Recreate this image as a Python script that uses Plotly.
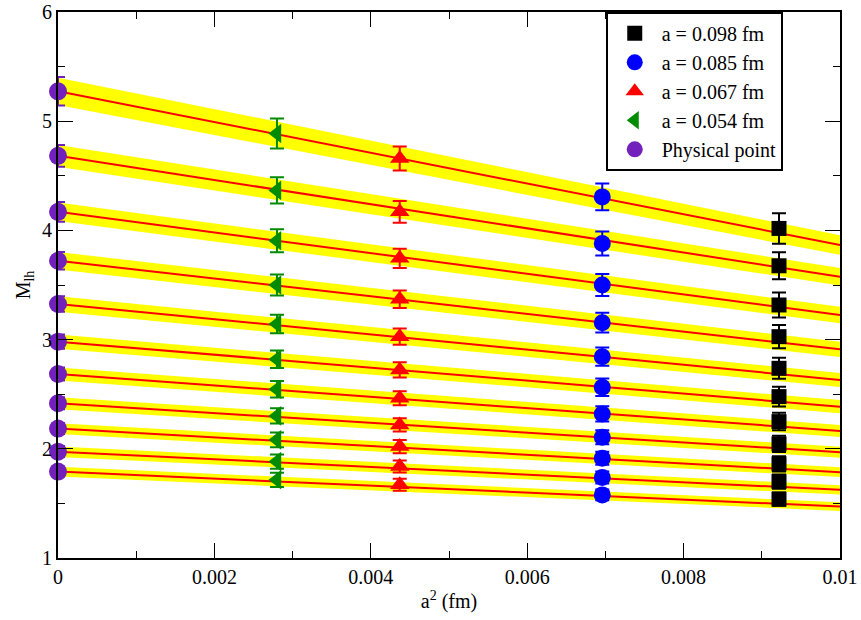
import plotly.graph_objects as go

# ---------------- data ----------------
x_phys = 0.0
x_054 = 0.0028
x_067 = 0.00437
x_085 = 0.00696
x_098 = 0.00922

phys_y = [5.274, 4.683, 4.170, 3.722, 3.326, 2.981, 2.685, 2.417, 2.185, 1.974, 1.791]
phys_err = [0.13, 0.10, 0.09, 0.08, 0.07, 0.065, 0.06, 0.055, 0.05, 0.05, 0.045]

a054_y = [4.887, 4.366, 3.905, 3.500, 3.143, 2.820, 2.545, 2.301, 2.082, 1.883, 1.716]
a054_err = [0.137, 0.12, 0.105, 0.096, 0.084, 0.08, 0.075, 0.07, 0.067, 0.065, 0.065]

a067_y = [4.659, 4.170, 3.744, 3.370, 3.027, 2.722, 2.463, 2.219, 2.020, 1.837, 1.670]
a067_err = [0.11, 0.10, 0.088, 0.08, 0.075, 0.07, 0.065, 0.06, 0.06, 0.055, 0.055]

a085_y = [4.307, 3.881, 3.500, 3.155, 2.844, 2.564, 2.319, 2.106, 1.914, 1.737, 1.578]
a085_err = [0.122, 0.11, 0.10, 0.09, 0.084, 0.08, 0.07, 0.065, 0.06, 0.055, 0.05]

a098_y = [4.018, 3.676, 3.317, 3.027, 2.737, 2.478, 2.249, 2.045, 1.862, 1.700, 1.539]
a098_err = [0.14, 0.123, 0.115, 0.107, 0.096, 0.09, 0.08, 0.075, 0.07, 0.065, 0.06]

# linear fits: value at a^2 = 0 and at a^2 = 0.01
fit_y0 = [5.274, 4.683, 4.170, 3.722, 3.326, 2.981, 2.685, 2.417, 2.185, 1.974, 1.791]
fit_y1 = [3.866, 3.576, 3.225, 2.911, 2.630, 2.386, 2.164, 1.969, 1.786, 1.624, 1.471]
band_hw0 = [0.125, 0.10, 0.085, 0.08, 0.07, 0.065, 0.06, 0.055, 0.05, 0.048, 0.045]
band_hw1 = [0.09, 0.08, 0.075, 0.07, 0.065, 0.06, 0.055, 0.05, 0.045, 0.043, 0.04]
fit_x = [0.0, 0.01]

x_tickvals = [0, 0.002, 0.004, 0.006, 0.008, 0.01]
x_ticktext = ["0", "0.002", "0.004", "0.006", "0.008", "0.01"]
y_tickvals = [1, 2, 3, 4, 5, 6]
y_ticktext = ["1", "2", "3", "4", "5", "6"]

FONT = "Liberation Serif"
fig = go.Figure()

# bands
for y0, y1, h0, h1 in zip(fit_y0, fit_y1, band_hw0, band_hw1):
    xs = fit_x + fit_x[::-1]
    ys = [y0 + h0, y1 + h1, y1 - h1, y0 - h0]
    fig.add_trace(go.Scatter(x=xs, y=ys, fill="toself", fillcolor="#ffff00",
                             line=dict(width=0), mode="lines", showlegend=False,
                             hoverinfo="skip"))
# fit lines
for y0, y1 in zip(fit_y0, fit_y1):
    fig.add_trace(go.Scatter(x=fit_x, y=[y0, y1], mode="lines",
                             line=dict(color="#ff0000", width=2), showlegend=False,
                             hoverinfo="skip"))

def pts(xv, ys, errs, name, color, symbol, size):
    fig.add_trace(go.Scatter(
        x=[xv] * len(ys), y=ys, mode="markers", name=name,
        marker=dict(color=color, symbol=symbol, size=size, line=dict(width=0)),
        error_y=dict(type="data", array=errs, color=color, thickness=2, width=7),
        cliponaxis=False))

pts(x_098, a098_y, a098_err, "a = 0.098 fm", "#000000", "square", 15)
pts(x_085, a085_y, a085_err, "a = 0.085 fm", "#0000ff", "circle", 17)
pts(x_067, a067_y, a067_err, "a = 0.067 fm", "#ff0000", "triangle-up", 17)
pts(x_054, a054_y, a054_err, "a = 0.054 fm", "#008b00", "triangle-left", 17)
pts(x_phys, phys_y, phys_err, "Physical point", "#7221bc", "circle", 18)

tick_font = dict(family=FONT, size=20, color="black")
axis_common = dict(showline=True, linecolor="black", linewidth=1.8, mirror="allticks",
                   ticks="inside", ticklen=15, tickwidth=1.2, tickcolor="black",
                   showgrid=False, zeroline=False, ticklabeloverflow="allow")
fig.update_xaxes(range=[0, 0.01], tickvals=x_tickvals, ticktext=x_ticktext,
                 tickfont=tick_font,
                 minor=dict(dtick=0.001, ticks="inside", ticklen=7, tickcolor="black", tickwidth=1.2),
                 title=dict(text="a<sup>2</sup> (fm)", font=tick_font, standoff=7),
                 **axis_common)
fig.update_yaxes(range=[1, 6], tickvals=y_tickvals, ticktext=y_ticktext,
                 tickfont=tick_font,
                 minor=dict(dtick=0.5, ticks="inside", ticklen=7, tickcolor="black", tickwidth=1.2),
                 title=dict(text="M<sub>lh</sub>", font=tick_font, standoff=6),
                 **axis_common)

fig.update_layout(
    width=861, height=620,
    margin=dict(l=58, r=21, t=12, b=62, autoexpand=False),
    plot_bgcolor="white", paper_bgcolor="white",
    font=dict(family=FONT, size=20, color="black"),
    legend=dict(x=0.7007, y=1, xanchor="left", yanchor="top",
                bgcolor="white", bordercolor="black", borderwidth=1.8,
                font=dict(family=FONT, size=20, color="black"),
                itemwidth=44, traceorder="normal"),
)

fig.write_html("out.html", config={"displayModeBar": False},
               post_script="document.body.style.margin='0';")
